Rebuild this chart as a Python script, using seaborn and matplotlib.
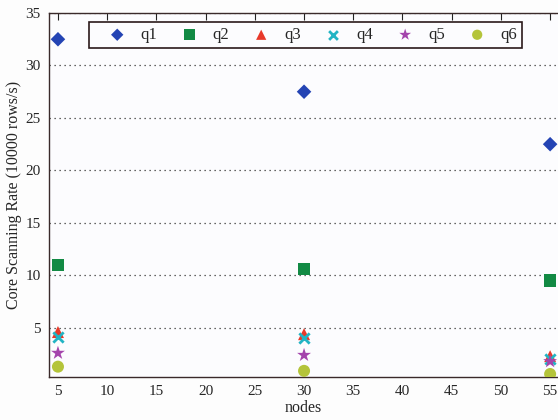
import matplotlib
matplotlib.use("Agg")
import matplotlib.pyplot as plt
import seaborn as sns
import pandas as pd

# Scan rate per query at each cluster size
nodes = [5, 30, 55]
queries = ["q1", "q2", "q3", "q4", "q5", "q6"]
q1 = [32.5, 27.5, 22.5]
q2 = [11.0, 10.6, 9.5]
q3 = [4.6, 4.4, 2.3]
q4 = [4.1, 4.0, 2.0]
q5 = [2.6, 2.4, 1.8]
q6 = [1.3, 0.9, 0.6]
x_ticks = [5, 10, 15, 20, 25, 30, 35, 40, 45, 50, 55]
y_ticks = [5, 10, 15, 20, 25, 30, 35]

series = dict(zip(queries, [q1, q2, q3, q4, q5, q6]))
df = pd.DataFrame(
    [(n, q, v) for q, vals in series.items() for n, v in zip(nodes, vals)],
    columns=["nodes", "query", "rate"],
)

colors = {"q1": "#2444b4", "q2": "#128a44", "q3": "#e8392a",
          "q4": "#22b4c4", "q5": "#a444ac", "q6": "#b4c43a"}
markers = {"q1": "D", "q2": "s", "q3": "^", "q4": "x", "q5": "*", "q6": "o"}
sizes = {"q1": 55, "q2": 80, "q3": 75, "q4": 55, "q5": 110, "q6": 75}

sns.set_style("white")
plt.rcParams["font.family"] = ["Liberation Serif", "DejaVu Serif"]

fig = plt.figure(figsize=(5.58, 4.2), dpi=100)
fig.patch.set_facecolor("#fdfdfd")
ax = fig.add_axes([0.088, 0.102, 0.912, 0.867])
ax.set_facecolor("#fcfcfe")

for q in queries:
    sub = df[df["query"] == q]
    sns.scatterplot(data=sub, x="nodes", y="rate", ax=ax, color=colors[q],
                    marker=markers[q], s=sizes[q], label=q,
                    linewidth=2 if q == "q4" else 0,
                    edgecolor=colors[q] if q == "q4" else "none",
                    zorder=3)

ax.set_xlim(4.1, 55.8)
ax.set_ylim(0.3, 35)
ax.set_xticks(x_ticks)
ax.set_yticks(y_ticks)
ax.tick_params(direction="in", top=True, right=False, labelsize=11,
               length=5, color="#222222", pad=6)
ax.yaxis.grid(True, linestyle=(0, (1, 3)), color="#333333", linewidth=0.9)
ax.xaxis.grid(False)
for side in ["left", "bottom", "top"]:
    ax.spines[side].set_color("#3a2a2a")
    ax.spines[side].set_linewidth(1.0)
ax.spines["right"].set_visible(False)

ax.set_xlabel("nodes", fontsize=11.5, labelpad=1)
ax.set_ylabel("Core Scanning Rate (10000 rows/s)", fontsize=11.5)
ax.yaxis.set_label_coords(-0.054, 0.5)

handles, labels = ax.get_legend_handles_labels()
leg = ax.legend(handles, labels, ncol=6, loc="upper left",
                bbox_to_anchor=(0.079, 0.975, 0.85, 0.0), mode="expand",
                borderaxespad=0.0,
                frameon=True, fancybox=False, fontsize=12,
                handlelength=2.75, handletextpad=0.0, columnspacing=1.0,
                borderpad=0.3, markerscale=0.85)
leg.get_frame().set_edgecolor("#2a1a1a")
leg.get_frame().set_linewidth(1.2)
leg.get_frame().set_facecolor("#fcfcfe")
leg.get_frame().set_alpha(1.0)

fig.savefig("out.png", dpi=100, facecolor=fig.get_facecolor())
